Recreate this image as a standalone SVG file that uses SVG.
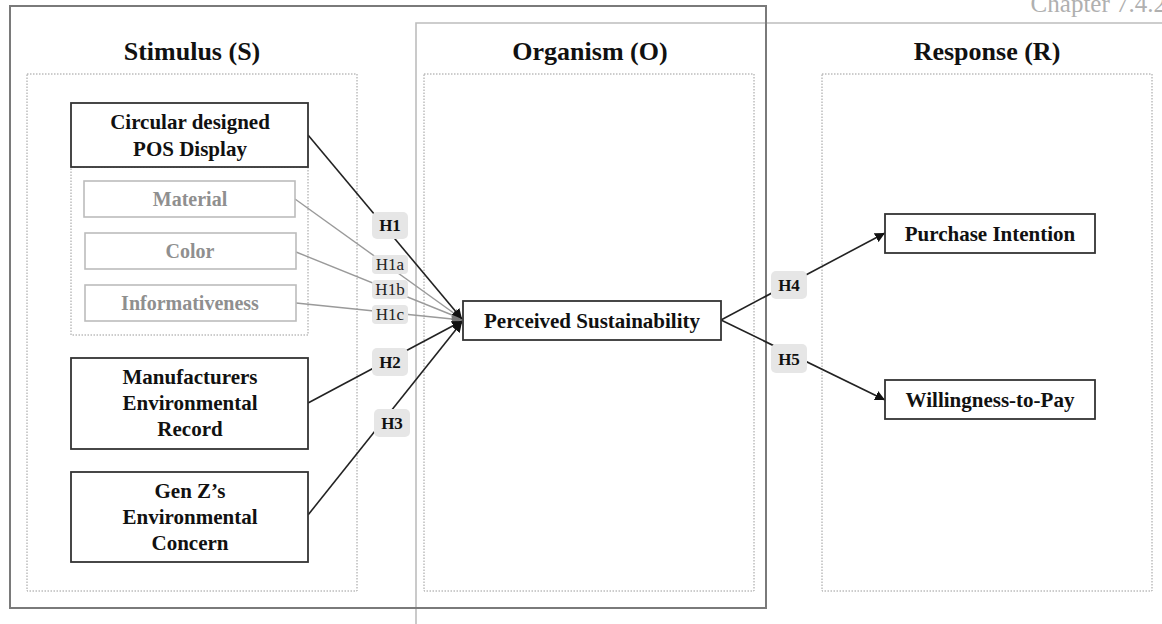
<svg xmlns="http://www.w3.org/2000/svg" width="1162" height="624" viewBox="0 0 1162 624">
  <style>
    .frame-dark { fill: none; stroke: #7a7a7a; stroke-width: 2; }
    .frame-light { fill: none; stroke: #bdbdbd; stroke-width: 1.6; }
    .zone { fill: none; stroke: #9a9a9a; stroke-width: 1; stroke-dasharray: 1.5 1.5; }
    .hdr { font-family: "Liberation Serif", "Times New Roman", serif; font-weight: bold; font-size: 26px; fill: #111; text-anchor: middle; }
    .box { fill: #fff; stroke: #333; stroke-width: 1.8; }
    .subbox { fill: #fff; stroke: #bcbcbc; stroke-width: 1.6; }
    .txt { font-family: "Liberation Serif", "Times New Roman", serif; font-weight: bold; font-size: 21px; fill: #111; text-anchor: middle; }
    .subtxt { font-family: "Liberation Serif", "Times New Roman", serif; font-weight: bold; font-size: 20px; fill: #8f8f8f; text-anchor: middle; }
    .tag { fill: #e6e6e6; }
    .tagb { font-family: "Liberation Serif", "Times New Roman", serif; font-weight: bold; font-size: 17px; fill: #111; text-anchor: middle; }
    .tagr { font-family: "Liberation Serif", "Times New Roman", serif; font-size: 17px; fill: #222; text-anchor: middle; }
    .edge { fill: none; stroke: #222; stroke-width: 1.6; }
    .edge-light { fill: none; stroke: #9a9a9a; stroke-width: 1.4; }
    .chap { font-family: "Liberation Serif", "Times New Roman", serif; font-size: 25px; fill: #b0b0b0; text-anchor: end; }
  </style>
  <defs>
    <marker id="arrow" viewBox="0 0 10 10" refX="10" refY="5" markerWidth="10" markerHeight="10" markerUnits="userSpaceOnUse" orient="auto">
      <path d="M0,0 L10,5 L0,10 z" fill="#111"/>
    </marker>
    <marker id="arrow-grey" viewBox="0 0 10 10" refX="10" refY="5" markerWidth="10" markerHeight="10" markerUnits="userSpaceOnUse" orient="auto">
      <path d="M0,0 L10,5 L0,10 z" fill="#777"/>
    </marker>
  </defs>

  <rect width="1162" height="624" fill="#fff"/>

  <!-- page furniture -->
  <text class="chap" x="1166" y="12">Chapter 7.4.2</text>
  <path class="frame-light" d="M416,630 L416,23 L1170,23"/>
  <rect class="frame-dark" x="10" y="6" width="756" height="602"/>

  <!-- column zones -->
  <g id="zone-stimulus">
    <rect class="zone" x="27" y="74" width="330" height="517"/>
    <text class="hdr" x="192" y="60">Stimulus (S)</text>
  </g>
  <g id="zone-organism">
    <rect class="zone" x="424" y="74" width="330" height="517"/>
    <text class="hdr" x="590" y="60">Organism (O)</text>
  </g>
  <g id="zone-response">
    <rect class="zone" x="822" y="74" width="330" height="517"/>
    <text class="hdr" x="987" y="60">Response (R)</text>
  </g>

  <!-- connectors -->
  <g id="connectors">
    <line class="edge-light" x1="295" y1="199" x2="462" y2="319" marker-end="url(#arrow-grey)"/>
    <line class="edge-light" x1="296" y1="252" x2="462" y2="319" marker-end="url(#arrow-grey)"/>
    <line class="edge-light" x1="296" y1="303" x2="462" y2="320" marker-end="url(#arrow-grey)"/>
    <line class="edge" x1="308" y1="135" x2="462" y2="319" marker-end="url(#arrow)"/>
    <line class="edge" x1="308" y1="403" x2="462" y2="321" marker-end="url(#arrow)"/>
    <line class="edge" x1="308" y1="515" x2="462" y2="322" marker-end="url(#arrow)"/>
    <line class="edge" x1="721" y1="320" x2="885" y2="233" marker-end="url(#arrow)"/>
    <line class="edge" x1="721" y1="320" x2="885" y2="400" marker-end="url(#arrow)"/>

    <rect class="tag" x="372" y="212" width="36" height="27" rx="5"/>
    <text class="tagb" x="390" y="231">H1</text>
    <rect class="tag" x="372" y="255" width="36" height="19" rx="4"/>
    <text class="tagr" x="390" y="270">H1a</text>
    <rect class="tag" x="372" y="280" width="36" height="19" rx="4"/>
    <text class="tagr" x="390" y="295">H1b</text>
    <rect class="tag" x="372" y="305" width="36" height="19" rx="4"/>
    <text class="tagr" x="390" y="320">H1c</text>
    <rect class="tag" x="372" y="348" width="36" height="28" rx="5"/>
    <text class="tagb" x="390" y="368">H2</text>
    <rect class="tag" x="374" y="409" width="36" height="28" rx="5"/>
    <text class="tagb" x="392" y="429">H3</text>
    <rect class="tag" x="771" y="271" width="36" height="28" rx="5"/>
    <text class="tagb" x="789" y="291">H4</text>
    <rect class="tag" x="771" y="344" width="36" height="29" rx="5"/>
    <text class="tagb" x="789" y="365">H5</text>
  </g>

  <!-- stimulus nodes -->
  <g id="node-pos-display">
    <rect class="zone" x="71" y="167" width="237" height="168"/>
    <rect class="box" x="71" y="103" width="237" height="64"/>
    <text class="txt" x="190" y="129">Circular designed</text>
    <text class="txt" x="190" y="156">POS Display</text>
  </g>
  <g id="node-material">
    <rect class="subbox" x="84" y="181" width="211" height="36"/>
    <text class="subtxt" x="190" y="206">Material</text>
  </g>
  <g id="node-color">
    <rect class="subbox" x="85" y="233" width="211" height="36"/>
    <text class="subtxt" x="190" y="258">Color</text>
  </g>
  <g id="node-informativeness">
    <rect class="subbox" x="85" y="285" width="211" height="36"/>
    <text class="subtxt" x="190" y="310">Informativeness</text>
  </g>
  <g id="node-manufacturers">
    <rect class="box" x="71" y="358" width="237" height="91"/>
    <text class="txt" x="190" y="384">Manufacturers</text>
    <text class="txt" x="190" y="410">Environmental</text>
    <text class="txt" x="190" y="436">Record</text>
  </g>
  <g id="node-genz">
    <rect class="box" x="71" y="472" width="237" height="90"/>
    <text class="txt" x="190" y="498">Gen Z’s</text>
    <text class="txt" x="190" y="524">Environmental</text>
    <text class="txt" x="190" y="550">Concern</text>
  </g>

  <!-- organism node -->
  <g id="node-perceived-sustainability">
    <rect class="box" x="463" y="301" width="258" height="39"/>
    <text class="txt" x="592" y="328">Perceived Sustainability</text>
  </g>

  <!-- response nodes -->
  <g id="node-purchase-intention">
    <rect class="box" x="885" y="214" width="210" height="39"/>
    <text class="txt" x="990" y="241">Purchase Intention</text>
  </g>
  <g id="node-wtp">
    <rect class="box" x="885" y="380" width="210" height="39"/>
    <text class="txt" x="990" y="407">Willingness-to-Pay</text>
  </g>
</svg>
